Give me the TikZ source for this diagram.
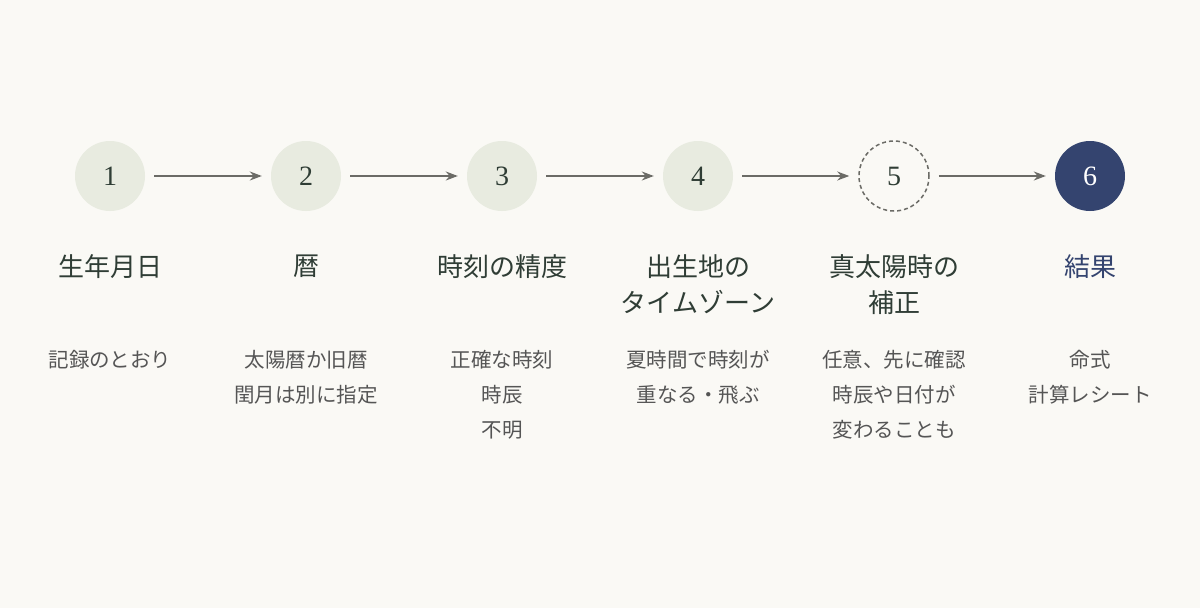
\documentclass[tikz,border=0pt]{standalone}
\usepackage{fontspec}
\usetikzlibrary{arrows.meta}
\newfontfamily\cjk{Noto Sans CJK JP}
\setmainfont{Liberation Serif}
\definecolor{bg}{HTML}{FAF9F5}
\definecolor{cfill}{HTML}{E8EBE0}
\definecolor{ink}{HTML}{2F3D35}
\definecolor{navy}{HTML}{34446F}
\definecolor{desc}{HTML}{555555}
\definecolor{arr}{HTML}{6B6B66}
\begin{document}
\begin{tikzpicture}[x=1pt,y=-1pt,
  stepc/.style={circle,minimum size=70pt,inner sep=0pt,fill=cfill,text=ink,font=\fontsize{28}{28}\selectfont},
  ttl/.style={align=center,text=ink,font=\cjk\fontsize{26}{36}\selectfont,anchor=north},
  dsc/.style={align=center,text=desc,font=\cjk\fontsize{20.5}{35}\selectfont,anchor=north},
  conn/.style={-{Stealth[length=12pt,width=9pt]},draw=arr,line width=1.5pt,shorten <=9pt,shorten >=9pt}]
\fill[bg] (0,0) rectangle (1200,608);
\node[stepc] (s1) at (110,176) {1};
\node[stepc] (s2) at (306,176) {2};
\node[stepc] (s3) at (502,176) {3};
\node[stepc] (s4) at (698,176) {4};
\node[stepc,fill=bg,draw=arr,dash pattern=on 4pt off 3pt,line width=1.5pt] (s5) at (894,176) {5};
\node[stepc,fill=navy,text=white] (s6) at (1090,176) {6};
\foreach \a/\b in {s1/s2,s2/s3,s3/s4,s4/s5,s5/s6}
  \draw[conn] (\a) -- (\b);
\node[ttl] (t1) at (110,251) {生年月日};
\node[ttl] (t2) at (306,251) {暦};
\node[ttl] (t3) at (502,251) {時刻の精度};
\node[ttl] (t4) at (698,251) {出生地の\\タイムゾーン};
\node[ttl] (t5) at (894,251) {真太陽時の\\補正};
\node[ttl,text=navy] (t6) at (1090,251) {結果};
\node[dsc] (d1) at (110,347) {記録のとおり};
\node[dsc] (d2) at (306,347) {太陽暦か旧暦\\閏月は別に指定};
\node[dsc] (d3) at (502,347) {正確な時刻\\時辰\\不明};
\node[dsc] (d4) at (698,347) {夏時間で時刻が\\重なる・飛ぶ};
\node[dsc] (d5) at (894,347) {任意、先に確認\\時辰や日付が\\変わることも};
\node[dsc] (d6) at (1090,347) {命式\\計算レシート};
\end{tikzpicture}
\end{document}
